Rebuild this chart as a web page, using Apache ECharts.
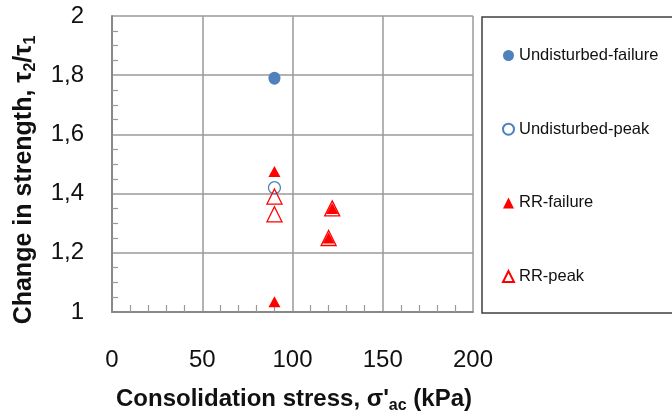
<!DOCTYPE html>
<html>
<head>
<meta charset="utf-8">
<script src="https://cdn.jsdelivr.net/npm/echarts@6/dist/echarts.min.js"></script>
<style>html,body{margin:0;padding:0;background:#fff;}#c{width:672px;height:418px;}</style>
</head>
<body>
<div id="c"></div>
<script>
// Data
var undFailX = [90];
var undFailY = [1.79];
var undPeakX = [90];
var undPeakY = [1.42];
var rrFailX = [90, 122, 120, 90];
var rrFailY = [1.475, 1.35, 1.25, 1.035];
var rrPeakX = [90, 90, 122, 120];
var rrPeakY = [1.39, 1.33, 1.35, 1.25];
var seriesNames = ['Undisturbed-failure', 'Undisturbed-peak', 'RR-failure', 'RR-peak'];
var xTicks = [0, 50, 100, 150, 200];
var yTicks = [1, 1.2, 1.4, 1.6, 1.8, 2];
var xTitle = '{b|Consolidation stress, σ\'}{s|ac}{b| (kPa)}';
var yTitle = '{b|Change in strength, τ}{s|2}{b|/τ}{s|1}';

function pairs(xs, ys) { return xs.map(function (x, i) { return [x, ys[i]]; }); }

var FONT = '"Liberation Sans", Arial, sans-serif';
var blue = '#4F81BD', red = '#FF0000';
var titleRich = {
  b: {fontSize: 24, fontWeight: 'bold', fill: '#111', fontFamily: FONT},
  s: {fontSize: 16, fontWeight: 'bold', fill: '#111', fontFamily: FONT, padding: [14, 0, 0, 0]}
};
var chart = echarts.init(document.getElementById('c'), null, {renderer: 'canvas'});
chart.setOption({
  animation: false,
  backgroundColor: '#fff',
  grid: {left: 112, top: 16, right: 199, bottom: 106, containLabel: false, outerBoundsMode: 'none'},
  xAxis: {
    type: 'value', min: xTicks[0], max: xTicks[xTicks.length - 1], interval: 50,
    axisLine: {show: true, onZero: false, lineStyle: {color: '#888', width: 2}},
    axisTick: {show: false, inside: true},
    minorTick: {show: true, splitNumber: 5, length: 7, lineStyle: {color: '#999', width: 1.2}},
    splitLine: {show: true, lineStyle: {color: '#9a9a9a', width: 1.5}},
    axisLabel: {margin: 36, fontSize: 24, color: '#111', fontFamily: FONT,
      formatter: function (v) { return String(v); }}
  },
  yAxis: {
    type: 'value', min: yTicks[0], max: yTicks[yTicks.length - 1], interval: 0.2,
    axisLine: {show: true, onZero: false, lineStyle: {color: '#888', width: 2}},
    axisTick: {show: false, inside: true},
    minorTick: {show: true, splitNumber: 4, length: 6, lineStyle: {color: '#999', width: 1.2}},
    splitLine: {show: true, lineStyle: {color: '#9a9a9a', width: 1.5}},
    axisLabel: {margin: 28, fontSize: 24, color: '#111', fontFamily: FONT,
      formatter: function (v) { return (Math.round(v * 10) / 10).toString().replace('.', ','); }}
  },
  legend: {
    orient: 'vertical', left: 502, top: 47, itemGap: 56.7, padding: 0,
    itemWidth: 11, itemHeight: 11,
    textStyle: {fontSize: 16.5, lineHeight: 16, color: '#111', fontFamily: FONT, padding: [0, 0, 0, 0]},
    data: seriesNames
  },
  graphic: [{
    type: 'rect', shape: {x: 482, y: 17, width: 200, height: 296},
    style: {fill: 'none', stroke: '#404040', lineWidth: 1.5}, silent: true, z: 100
  }, {
    type: 'text', x: 294, y: 399, silent: true,
    style: {text: xTitle, rich: titleRich, align: 'center', verticalAlign: 'middle'}
  }, {
    type: 'text', x: 24, y: 180, rotation: Math.PI / 2, silent: true,
    style: {text: yTitle, rich: {
      b: {fontSize: 25, fontWeight: 'bold', fill: '#111', fontFamily: FONT},
      s: {fontSize: 16, fontWeight: 'bold', fill: '#111', fontFamily: FONT, padding: [14, 0, 0, 0]}
    }, align: 'center', verticalAlign: 'middle'}
  }],
  series: [
    {name: seriesNames[0], type: 'scatter', data: pairs(undFailX, undFailY),
      symbol: 'circle', symbolSize: [12, 13], itemStyle: {color: blue, opacity: 1}},
    {name: seriesNames[1], type: 'scatter', data: pairs(undPeakX, undPeakY),
      symbol: 'circle', symbolSize: 12,
      itemStyle: {color: 'rgba(255,255,255,0)', borderColor: blue, borderWidth: 1.3, opacity: 1}},
    {name: seriesNames[2], type: 'scatter', data: pairs(rrFailX, rrFailY),
      symbol: 'triangle', symbolSize: [12, 11], itemStyle: {color: red, opacity: 1}},
    {name: seriesNames[3], type: 'scatter', data: pairs(rrPeakX, rrPeakY),
      symbol: 'triangle', symbolSize: [15, 15],
      itemStyle: {color: 'rgba(255,255,255,0)', borderColor: red, borderWidth: 1.3, opacity: 1}}
  ]
});
</script>
</body>
</html>
